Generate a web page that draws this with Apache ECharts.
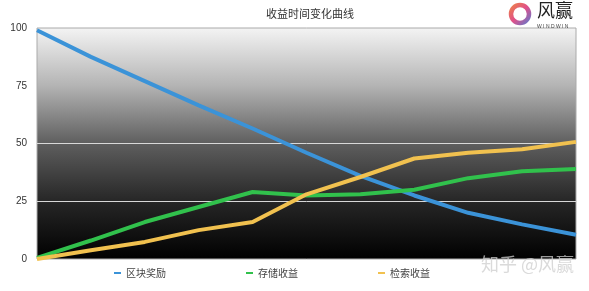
<!DOCTYPE html>
<html><head><meta charset="utf-8">
<script src="https://cdn.jsdelivr.net/npm/echarts@6/dist/echarts.min.js"></script>
<style>html,body{margin:0;padding:0;background:#fff}#c{width:589px;height:291px}</style>
</head><body><div id="c"></div>
<script>
const categories = ['1','2','3','4','5','6','7','8','9','10','11'];
const blockReward = [99, 87.5, 77, 66.5, 56.5, 46, 36, 27.5, 20, 15, 10.5];
const storageIncome = [0.5, 8, 16, 22.5, 29, 27.5, 28, 30, 35, 38, 39];
const retrievalIncome = [0, 3.8, 7.4, 12.5, 16, 28, 35.5, 43.5, 46, 47.5, 50.7];
const yTicks = [0, 25, 50, 75, 100];
const seriesNames = ['区块奖励', '存储收益', '检索收益'];

const chart = echarts.init(document.getElementById('c'));
const colors = ['#3b93d8', '#31c14c', '#f1c14f'];
const mk = (name, data, color) => ({
  name, type: 'line', data, symbol: 'none', smooth: false,
  lineStyle: {width: 4, color}, itemStyle: {color}
});
chart.setOption({
  animation: false,
  title: {text: '收益时间变化曲线', left: 305, top: 3, textAlign: 'center',
    textStyle: {fontSize: 11, fontWeight: 'normal', color: '#333', fontFamily: 'Noto Sans CJK SC'}},
  legend: {
    data: seriesNames, left: 109, top: 263, itemWidth: 7, itemHeight: 2, itemGap: 80,
    icon: 'rect',
    textStyle: {fontSize: 10, color: '#444', fontFamily: 'Noto Sans CJK SC'}
  },
  grid: {left: 37, right: 13, top: 28, bottom: 32, show: true,
    borderColor: '#aaa', borderWidth: 1,
    backgroundColor: {type: 'linear', x: 0, y: 0, x2: 0, y2: 1, colorStops: [
      {offset: 0, color: '#f4f4f4'}, {offset: 0.25, color: '#b4b4b4'},
      {offset: 0.5, color: '#5e5e5e'}, {offset: 0.75, color: '#262626'}, {offset: 1, color: '#000'}]}
  },
  xAxis: {type: 'category', data: categories, boundaryGap: false,
    axisLine: {show: false}, axisTick: {show: false}, axisLabel: {show: false}},
  yAxis: {type: 'value', min: yTicks[0], max: yTicks[yTicks.length-1], interval: 25,
    axisLine: {show: false}, axisTick: {show: false},
    axisLabel: {color: '#333', fontSize: 10, margin: 10, fontFamily: 'Liberation Sans'},
    splitLine: {lineStyle: {color: ['rgba(0,0,0,0)', '#d8d8d8', '#d8d8d8', 'rgba(0,0,0,0)', 'rgba(0,0,0,0)'], width: 1}}
  },
  graphic: [
    {type: 'circle', shape: {cx: 520, cy: 14, r: 9}, style: {fill: 'none', lineWidth: 4.5,
      stroke: {type: 'linear', x: 0, y: 0, x2: 1, y2: 1, colorStops: [
        {offset: 0, color: '#f08a3c'}, {offset: 0.5, color: '#e0508a'}, {offset: 1, color: '#4a7fd8'}]}}},
    {type: 'text', left: 537, top: 1, style: {text: '风赢', fontSize: 18, fill: '#222', fontFamily: 'Noto Sans CJK SC'}},
    {type: 'text', left: 537, top: 24, style: {text: 'W I N D W I N', fontSize: 5, fill: '#444', fontFamily: 'Liberation Sans'}},
    {type: 'text', left: 481, top: 255, style: {text: '知乎 @风赢', fontSize: 18, fill: 'rgba(205,205,205,0.75)', fontFamily: 'Noto Sans CJK SC'}}
  ],
  series: [
    mk(seriesNames[0], blockReward, colors[0]),
    mk(seriesNames[1], storageIncome, colors[1]),
    mk(seriesNames[2], retrievalIncome, colors[2])
  ]
});
</script></body></html>
